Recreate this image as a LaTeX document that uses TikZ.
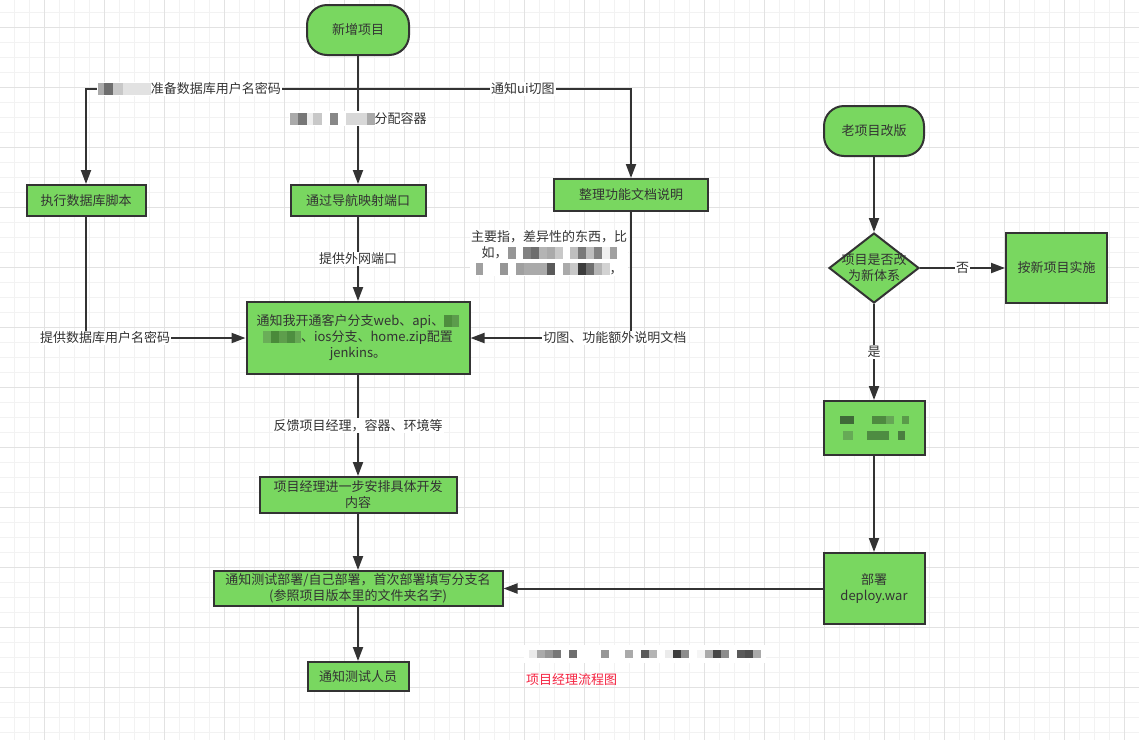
\documentclass[tikz,border=0pt]{standalone}
\usepackage{fontspec}
\setmainfont{Noto Sans CJK SC}
\usetikzlibrary{arrows.meta,shapes.geometric}
\definecolor{boxgreen}{RGB}{121,215,96}
\definecolor{ink}{RGB}{51,51,51}
\definecolor{gridminor}{RGB}{242,242,242}
\definecolor{gridmajor}{RGB}{226,226,226}
\definecolor{titlered}{RGB}{245,35,65}
\newcommand\pcell[3]{{\color[HTML]{#3}\rule[-1.5pt]{#1}{#2}}}
\begin{document}
\begin{tikzpicture}[x=1pt,y=-1pt,
  font=\fontsize{13pt}{16pt}\selectfont,
  box/.style={draw=ink, line width=2pt, fill=boxgreen, text=ink, inner sep=0pt, align=center},
  term/.style={box, rounded corners=20pt},
  conn/.style={draw=ink, line width=2pt, -{Triangle[length=14pt,width=10pt]}},
  lbl/.style={fill=white, text=ink, inner sep=1pt, align=center},
  gmin/.style={draw=gridminor, line width=1pt},
  gmaj/.style={draw=gridmajor, line width=1pt},
]
\useasboundingbox (0,0) rectangle (1139,740);
\fill[white] (0,0) rectangle (1139,740);
% grid
\foreach \x in {14,29,...,1139} \draw[gmin] (\x,0) -- (\x,740);
\foreach \y in {12,27,...,740} \draw[gmin] (0,\y) -- (1139,\y);
\foreach \x in {44,104,...,1139} \draw[gmaj] (\x,0) -- (\x,740);
\foreach \y in {27,87,...,740} \draw[gmaj] (0,\y) -- (1139,\y);

% left flow
\node[term, minimum width=102pt, minimum height=50pt] (new) at (358,30) {新增项目};
\node[box, minimum width=119pt, minimum height=31pt] (db) at (86,200.5) {执行数据库脚本};
\node[box, minimum width=135pt, minimum height=31pt] (nav) at (358,200.5) {通过导航映射端口};
\node[box, minimum width=154pt, minimum height=32pt] (doc) at (631,195) {整理功能文档说明};
\node[box, minimum width=223pt, minimum height=72pt] (main) at (358,338) {通知我开通客户分支web、api、\pcell{8pt}{12pt}{4E8E3E}\pcell{7pt}{12pt}{5C9C4C}\\\pcell{8pt}{12pt}{6AAE58}\pcell{8pt}{12pt}{4A8A3A}\pcell{8pt}{12pt}{5E9E4C}\pcell{8pt}{12pt}{4E8E40}\pcell{6pt}{12pt}{66A854}、ios分支、home.zip配置\\jenkins。};
\node[box, minimum width=197pt, minimum height=36pt] (pm) at (358,495) {项目经理进一步安排具体开发\\内容};
\node[box, minimum width=289pt, minimum height=35pt] (deploytest) at (358,588.5) {通知测试部署/自己部署，首次部署填写分支名\\(参照项目版本里的文件夹名字)};
\node[box, minimum width=101pt, minimum height=29pt] (tester) at (358,676.5) {通知测试人员};

% right flow
\node[term, minimum width=100pt, minimum height=50pt] (old) at (874,131) {老项目改版};
\node[box, diamond, minimum width=90pt, minimum height=70pt] (q) at (874,268) {};
\node[text=ink, align=center, inner sep=0pt] (qtext) at (q.center) {项目是否改\\为新体系};
\node[box, minimum width=101pt, minimum height=70pt] (newimpl) at (1056.5,268) {按新项目实施};
\node[box, minimum width=101pt, minimum height=54pt] (px) at (874,428) {\pcell{14pt}{8pt}{3F6A38}\hspace{18pt}\pcell{14pt}{8pt}{4E8A40}\pcell{8pt}{8pt}{66A656}\hspace{8pt}\pcell{7pt}{8pt}{5A9A4A}\\\pcell{10pt}{9pt}{66AA56}\hspace{14pt}\pcell{22pt}{9pt}{4E8C42}\hspace{9pt}\pcell{7pt}{9pt}{4A7E40}};
\node[box, minimum width=101pt, minimum height=71pt] (dep) at (874,588.5) {部署\\deploy.war};

% connectors
\draw[conn] (new.south) -- ++(0,33) -| (db.north) node[lbl, pos=0.31] {\pcell{6pt}{12pt}{AAAAAA}\pcell{9pt}{12pt}{6E6E6E}\pcell{10pt}{12pt}{C8C8C8}\pcell{28pt}{12pt}{E2E2E2}准备数据库用户名密码};
\draw[conn] (new.south) -- ++(0,33) -| (doc.north) node[lbl, pos=0.302] {通知ui切图};
\draw[conn] (new) -- (nav) node[lbl, pos=0.49] {\pcell{8pt}{12pt}{AAAAAA}\pcell{9pt}{12pt}{777777}\pcell{6pt}{12pt}{EEEEEE}\pcell{9pt}{12pt}{C8C8C8}\hspace{8pt}\pcell{8pt}{12pt}{888888}\hspace{8pt}\pcell{21pt}{12pt}{D8D8D8}\pcell{8pt}{12pt}{AAAAAA}分配容器};
\draw[conn] (nav) -- (main) node[lbl, midway] {提供外网端口};
\draw[conn] (db.south) |- (main.west) node[lbl, pos=0.56] {提供数据库用户名密码};
\draw[conn] (doc.south) |- (main.east) node[lbl, pos=0.55] {切图、功能额外说明文档};
\draw[conn] (main) -- (pm) node[lbl, midway] {反馈项目经理，容器、环境等};
\draw[conn] (pm) -- (deploytest);
\draw[conn] (deploytest) -- (tester);
\draw[conn] (old) -- (q);
\draw[conn] (q) -- (newimpl) node[lbl, midway] {否};
\draw[conn] (q) -- (px) node[lbl, midway] {是};
\draw[conn] (px) -- (dep);
\draw[conn] (dep) -- (deploytest);

% annotation
\node[lbl] (note) at (549,253) {主要指，差异性的东西，比\\如，\pcell{8pt}{12pt}{969696}\hspace{7pt}\pcell{8pt}{12pt}{828282}\pcell{8pt}{12pt}{6E6E6E}\pcell{8pt}{12pt}{B4B4B4}\pcell{8pt}{12pt}{AAAAAA}\pcell{8pt}{12pt}{C8C8C8}\hspace{7pt}\pcell{8pt}{12pt}{BEBEBE}\pcell{8pt}{12pt}{787878}\pcell{8pt}{12pt}{BEBEBE}\pcell{8pt}{12pt}{828282}\pcell{8pt}{12pt}{F0F0F0}\pcell{7pt}{12pt}{A0A0A0}\\\pcell{7pt}{12pt}{A0A0A0}\hspace{17pt}\pcell{8pt}{12pt}{969696}\hspace{8pt}\pcell{8pt}{12pt}{A0A0A0}\pcell{23pt}{12pt}{AAAAAA}\pcell{8pt}{12pt}{5A5A5A}\hspace{8pt}\pcell{7pt}{12pt}{AAAAAA}\pcell{8pt}{12pt}{C8C8C8}\pcell{8pt}{12pt}{3C3C3C}\pcell{8pt}{12pt}{6E6E6E}\pcell{8pt}{12pt}{B4B4B4}\pcell{8pt}{12pt}{D2D2D2}，};

% bottom caption
\node[anchor=west, fill=white, inner xsep=5pt, inner ysep=5pt] (blur) at (524,654) {\pcell{8pt}{8pt}{EBEBEB}\pcell{8pt}{8pt}{AAAAAA}\pcell{8pt}{8pt}{969696}\pcell{8pt}{8pt}{787878}\hspace{8pt}\pcell{8pt}{8pt}{6E6E6E}\hspace{24pt}\pcell{8pt}{8pt}{969696}\hspace{16pt}\pcell{8pt}{8pt}{AAAAAA}\hspace{8pt}\pcell{8pt}{8pt}{5A5A5A}\pcell{8pt}{8pt}{B4B4B4}\hspace{8pt}\pcell{8pt}{8pt}{EBEBEB}\pcell{8pt}{8pt}{3C3C3C}\pcell{8pt}{8pt}{8C8C8C}\hspace{8pt}\pcell{8pt}{8pt}{F5F5F5}\pcell{8pt}{8pt}{AAAAAA}\pcell{8pt}{8pt}{464646}\pcell{8pt}{8pt}{8C8C8C}\hspace{8pt}\pcell{8pt}{8pt}{5A5A5A}\pcell{8pt}{8pt}{505050}\pcell{8pt}{8pt}{AAAAAA}\hspace{14pt}};
\node[text=titlered, inner sep=0pt] (title) at (571.5,680) {项目经理流程图};
\end{tikzpicture}
\end{document}
